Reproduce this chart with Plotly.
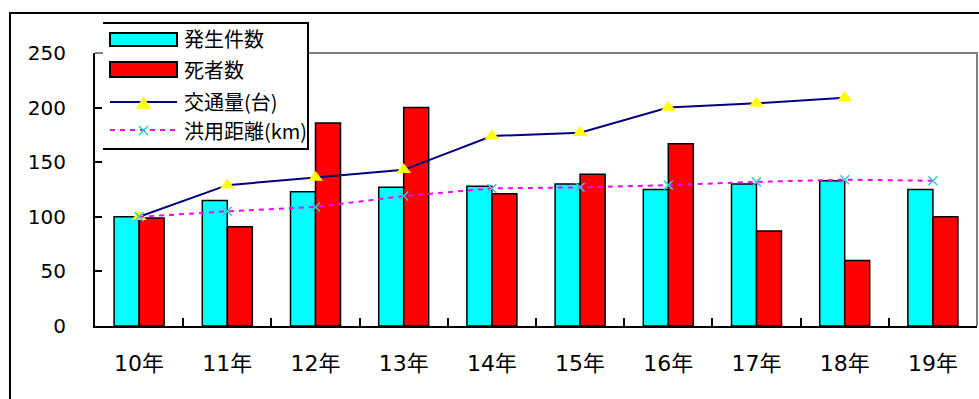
import plotly.graph_objects as go

# ---- data -------------------------------------------------------------
years = ["10年", "11年", "12年", "13年", "14年", "15年", "16年", "17年", "18年", "19年"]
accidents = [100, 115, 123, 127, 128, 130, 125, 130, 133, 125]       # 発生件数
deaths = [99, 91, 186, 200, 121, 139, 167, 87, 60, 100]             # 死者数
traffic = [100, 129, 136, 143, 174, 177, 200, 204, 209, None]       # 交通量(台)
distance = [100, 105, 109, 119, 126, 127, 129, 132, 134, 133]       # 洪用距離(km)
series_names = ["発生件数", "死者数", "交通量(台)", "洪用距離(km)"]
y_ticks = [0, 50, 100, 150, 200, 250]

FONT = "Noto Sans CJK JP"
TICK_FONT = "DejaVu Sans, Noto Sans CJK JP"
W, H = 979, 399
PL, PR, PT, PB = 95, 977, 53, 326   # plot area in pixels


def px(x):
    return (x - PL) / (PR - PL)


def py(y):
    return (PB - y) / (PB - PT)


fig = go.Figure()
fig.add_trace(go.Bar(x=years, y=accidents, name=series_names[0],
                     marker=dict(color="#00FFFF", line=dict(color="black", width=1.5)),
                     showlegend=False))
fig.add_trace(go.Bar(x=years, y=deaths, name=series_names[1],
                     marker=dict(color="#FF0000", line=dict(color="black", width=1.5)),
                     showlegend=False))
fig.add_trace(go.Scatter(x=years, y=traffic, name=series_names[2], mode="lines+markers",
                         line=dict(color="#000080", width=2),
                         marker=dict(symbol="triangle-up", size=13, color="#FFFF00"),
                         showlegend=False))
fig.add_trace(go.Scatter(x=years, y=distance, name=series_names[3], mode="lines+markers",
                         line=dict(color="#FF00FF", width=2, dash="5px,5px"),
                         marker=dict(symbol="x-thin", size=9, color="#33CCCC",
                                     line=dict(color="#33CCCC", width=1.5)),
                         showlegend=False))

shapes = []
# outer chart frame (left and top edges)
shapes.append(dict(type="path", xref="paper", yref="paper",
                   path=f"M {px(10)},{py(420)} L {px(10)},{py(13)} L {px(990)},{py(13)}",
                   line=dict(color="black", width=2)))
# plot-area border: grey top and right
shapes.append(dict(type="path", xref="paper", yref="paper",
                   path=f"M {px(PL)},{py(PT)} L {px(PR)},{py(PT)} L {px(PR)},{py(PB)}",
                   line=dict(color="#808080", width=2)))

# custom legend box
lx0, lx1, ly0, ly1 = 103, 308, 23, 149
shapes.append(dict(type="rect", xref="paper", yref="paper",
                   x0=px(lx0), x1=px(lx1), y0=py(ly1), y1=py(ly0),
                   fillcolor="white", line=dict(width=0), layer="above"))
shapes.append(dict(type="path", xref="paper", yref="paper", layer="above",
                   path=f"M {px(lx0)},{py(ly0)} L {px(lx1)},{py(ly0)} L {px(lx1)},{py(ly1)} L {px(lx0)},{py(ly1)}",
                   line=dict(color="black", width=2)))
# bar swatches
for (y0, y1, col) in [(33, 46, "#00FFFF"), (62, 77, "#FF0000")]:
    shapes.append(dict(type="rect", xref="paper", yref="paper", layer="above",
                       x0=px(110), x1=px(177), y0=py(y1), y1=py(y0),
                       fillcolor=col, line=dict(color="black", width=2)))
# line swatches
shapes.append(dict(type="line", xref="paper", yref="paper", layer="above",
                   x0=px(110), x1=px(177), y0=py(102), y1=py(102),
                   line=dict(color="#000080", width=2)))
shapes.append(dict(type="path", xref="paper", yref="paper", layer="above",
                   path=f"M {px(136)},{py(109)} L {px(151)},{py(109)} L {px(143.5)},{py(96)} Z",
                   fillcolor="#FFFF00", line=dict(width=0)))
shapes.append(dict(type="line", xref="paper", yref="paper", layer="above",
                   x0=px(110), x1=px(177), y0=py(130), y1=py(130),
                   line=dict(color="#FF00FF", width=2, dash="5px,5px")))
shapes.append(dict(type="path", xref="paper", yref="paper", layer="above",
                   path=f"M {px(139)},{py(126)} L {px(148)},{py(135)} M {px(148)},{py(126)} L {px(139)},{py(135)}",
                   line=dict(color="#33CCCC", width=1.5)))

annotations = []
for name, yc in zip(series_names, [39, 69, 101, 130]):
    annotations.append(dict(text=name, xref="paper", yref="paper", x=px(182), y=py(yc),
                            xanchor="left", yanchor="middle", showarrow=False,
                            font=dict(family=FONT, size=20, color="black")))

fig.update_layout(
    width=W, height=H,
    margin=dict(l=PL, r=W - PR, t=PT, b=H - PB),
    paper_bgcolor="white", plot_bgcolor="white",
    barmode="group", bargap=0.433, bargroupgap=0,
    showlegend=False,
    shapes=shapes, annotations=annotations,
    font=dict(family=FONT, size=19, color="black"),
)
fig.update_xaxes(type="category", range=[-0.5, 9.5], showgrid=False,
                 showline=True, linecolor="black", linewidth=2,
                 ticks="inside", tickson="boundaries", ticklen=8, tickwidth=2, tickcolor="black",
                 ticklabelstandoff=17, tickfont=dict(family=TICK_FONT, size=22))
fig.update_yaxes(range=[0, 250], tickvals=y_ticks, ticktext=[str(v) for v in y_ticks],
                 showgrid=False, zeroline=False,
                 showline=True, linecolor="black", linewidth=2,
                 ticks="inside", ticklen=7, tickwidth=2, tickcolor="black",
                 ticklabelstandoff=23, tickfont=dict(family=TICK_FONT, size=20))

fig.write_html("out.html")
